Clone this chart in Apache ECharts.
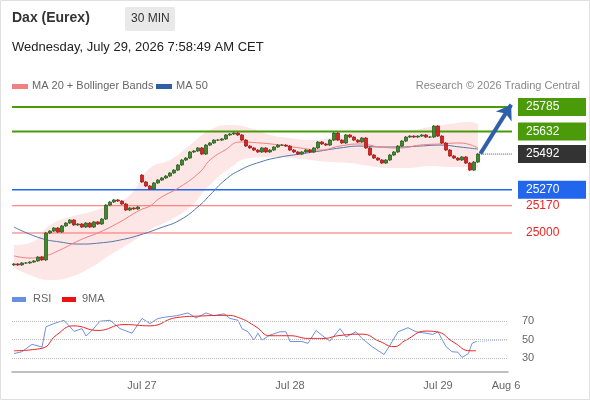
<!DOCTYPE html>
<html><head><meta charset="utf-8">
<script src="https://cdn.jsdelivr.net/npm/echarts@6/dist/echarts.min.js"></script>
<style>html,body{margin:0;padding:0;background:#fff}#c{width:590px;height:400px}</style>
</head><body><div id="c"></div>
<script>
const closes=[24807,24801,24813,24813,24819,24826,24850,24832,25000,25012,25031,25006,25044,25062,25081,25050,25056,25037,25062,25037,25069,25056,25087,25174,25193,25206,25199,25181,25143,25156,25150,25162,25318,25293,25274,25312,25330,25343,25355,25374,25392,25424,25455,25467,25505,25511,25530,25492,25548,25561,25579,25579,25586,25611,25617,25623,25611,25579,25542,25530,25517,25505,25530,25505,25517,25536,25548,25548,25542,25517,25505,25492,25505,25517,25505,25530,25567,25555,25548,25579,25623,25579,25561,25611,25598,25579,25567,25592,25530,25486,25467,25455,25436,25455,25486,25505,25542,25573,25598,25604,25598,25604,25611,25598,25598,25667,25604,25561,25517,25480,25467,25455,25474,25436,25392,25442,25492];
const openGaps={32:25361};
const ma50=[[0,25037],[6.5,24969],[11.5,24944],[16.5,24931],[21.5,24938],[26.5,24956],[31.5,24988],[36.5,25031],[41.5,25081],[46.5,25174],[49,25237],[52.75,25330],[56.5,25392],[61.5,25442],[66.5,25473],[71.5,25492],[76.5,25511],[81.5,25530],[86.5,25542],[91.5,25536],[96.5,25536],[101.5,25542],[106.5,25548],[111.5,25536],[116,25523]];
const ma20=[[0,24857],[4,24844],[7.75,24857],[11.5,24894],[16.5,24956],[21.5,25006],[26.5,25069],[31.5,25143],[34,25168],[36.5,25218],[41.5,25287],[46.5,25380],[49,25455],[52.75,25517],[56.5,25567],[61.5,25561],[66.5,25548],[71.5,25530],[76.5,25517],[81.5,25542],[86.5,25555],[91.5,25536],[96.5,25530],[101.5,25548],[106.5,25555],[111.5,25561],[116,25530]];
const bandIdx=[0,4,9,14,19,24,29,34,39,44,49,54,59,64,69,74,79,84,89,94,99,104,109,114,116];
const bandUpper=[24925,24938,25050,25100,25131,25174,25237,25405,25455,25548,25642,25673,25654,25611,25592,25579,25592,25623,25642,25642,25642,25660,25679,25692,25679];
const bandLower=[24782,24738,24707,24726,24782,24863,24938,25019,25081,25162,25299,25405,25467,25473,25467,25455,25442,25436,25417,25405,25405,25417,25411,25411,25405];
const rsi=[[0,35],[2,37],[4.5,45],[7,42],[8,64],[10,67.5],[12.5,71],[14,64],[15,59],[17,62],[18,54],[19.5,60],[21.5,70],[24,71],[26.5,62],[29.5,57],[32,73],[34,67.5],[36,73],[38,74.6],[40.7,76],[43.5,79],[45.5,73.5],[48,79],[50,76],[52.5,78],[54,73],[56,71],[57,62],[58.5,58.6],[60,49.6],[61,57],[62,49.6],[64,55],[66.5,58.6],[68,58.6],[69,48],[72,48],[73.5,46],[75.5,60],[77.5,53],[79,48.6],[81.5,62],[83,53],[85.5,58.6],[87,51.4],[89.5,42.5],[92.5,34],[94,44],[96,58.6],[98.5,63],[100.5,58.6],[103,57],[104.7,55.7],[106,58.6],[108,42.5],[109.5,37],[111,36.4],[112,30.7],[113.6,35],[114.5,46],[115.5,48]];
const rsiMa=[[0,38],[7,40.7],[10.6,55],[15,65],[21,60],[27.5,66.4],[34,65],[40.7,74],[47,75.7],[53,76.4],[56.7,73],[60.5,64],[64,54.3],[69,54.3],[73.6,51.4],[77.5,51.4],[81,54.3],[87,56],[91.5,48],[95,42.5],[98,49.6],[103,59.3],[105.6,58.6],[110,47],[114,38],[115.5,38]];
const rsiLevels=[30,50,70];
const levels=[{v:25785,bg:'#4a9a0a',line:'#4a9a0a',w:2},{v:25632,bg:'#4a9a0a',line:'#4a9a0a',w:2},{v:25270,bg:'#2266ee',line:'#2266ee',w:1.5},{v:25170,bg:null,line:'#ff6a6a',w:1},{v:25000,bg:null,line:'#ff6a6a',w:1}];
const lastPrice=25492;
const dateLabels={32:'Jul 27',69:'Jul 28',106:'Jul 29',123:'Aug 6'};

const priceCats=[];for(let i=0;i<125;i++)priceCats.push(String(i));
const rsiCats=[];for(let i=0;i<124;i++)rsiCats.push(dateLabels[i]||'');
const ohlc=closes.map((c,i)=>{const o=openGaps[i]!==undefined?openGaps[i]:(i?closes[i-1]:c-6);return [o,c,Math.min(o,c)-6,Math.max(o,c)+6];});

function levelSeries(l){return {type:'line',xAxisIndex:1,yAxisIndex:0,z:3,silent:true,symbol:'none',
 data:[[-0.5,l.v],[124.5,l.v]],color:l.line,lineStyle:{color:l.line,width:l.w,type:'solid'},
 endLabel:{show:true,distance:6,formatter:String(l.v),color:l.bg?'#fff':'#e22',fontSize:12,
  backgroundColor:l.bg||'transparent',padding:[3,14,3,8],width:46}};}

const chart=echarts.init(document.getElementById('c'));
chart.setOption({
 animation:false,
 grid:[{left:12,top:100,width:500,height:180},{left:12,top:312,width:496,height:60}],
 xAxis:[
  {type:'category',data:priceCats,gridIndex:0,show:false,boundaryGap:true},
  {type:'value',gridIndex:0,show:false,min:-0.5,max:124.5},
  {type:'category',data:rsiCats,gridIndex:1,boundaryGap:true,
   axisLine:{lineStyle:{color:'#aaa',width:1.5}},axisTick:{show:false},
   axisLabel:{interval:(i)=>!!dateLabels[i],color:'#666',fontSize:11,margin:8}},
  {type:'value',gridIndex:1,show:false,min:-0.5,max:123.5}
 ],
 yAxis:[
  {type:'value',gridIndex:0,min:24707,max:25829,show:false,splitLine:{show:false}},
  {type:'value',gridIndex:1,min:15,max:80,show:false,splitLine:{show:false}}
 ],
 series:[
  {type:'line',z:1,xAxisIndex:1,yAxisIndex:0,data:bandIdx.map((x,k)=>[x,bandUpper[k]]),symbol:'none',smooth:true,lineStyle:{opacity:0},areaStyle:{color:'#fde6e6',opacity:1,origin:'start'}},
  {type:'line',z:1,xAxisIndex:1,yAxisIndex:0,data:bandIdx.map((x,k)=>[x,bandLower[k]]),symbol:'none',smooth:true,lineStyle:{opacity:0},areaStyle:{color:'#ffffff',opacity:1,origin:'start'}},
  ...levels.map(levelSeries),
  {type:'line',z:4,xAxisIndex:1,yAxisIndex:0,data:ma50,symbol:'none',smooth:true,lineStyle:{color:'#5577aa',width:1}},
  {type:'line',z:4,xAxisIndex:1,yAxisIndex:0,data:ma20,symbol:'none',smooth:true,lineStyle:{color:'#f28080',width:1}},
  {type:'candlestick',z:6,xAxisIndex:0,yAxisIndex:0,data:ohlc,barWidth:3,large:false,
   itemStyle:{color:'#3f8a2e',color0:'#dd2222',borderColor:'#2e5e22',borderColor0:'#992222',borderWidth:0.8}},
  {type:'line',z:3,xAxisIndex:1,yAxisIndex:0,silent:true,symbol:'none',data:[[116.3,lastPrice],[124.5,lastPrice]],
   lineStyle:{color:'#555',type:'dotted',width:1},
   endLabel:{show:true,distance:6,formatter:String(lastPrice),color:'#fff',fontSize:12,backgroundColor:'#333',padding:[3,14,3,8],width:46}},
  {type:'line',z:7,xAxisIndex:1,yAxisIndex:0,data:[],silent:true,
   markLine:{symbol:['none','arrow'],symbolSize:14,silent:true,
    label:{show:false},data:[[{coord:[116.6,25495],lineStyle:{color:'#2e5fa8',type:'solid',width:4}},{coord:[124.3,25800]}]]}},
  {type:'line',xAxisIndex:3,yAxisIndex:1,data:rsi,symbol:'none',lineStyle:{color:'#7090e0',width:1},
   markLine:{symbol:'none',silent:true,
    label:{show:true,position:'end',distance:14,color:'#666',fontSize:11,formatter:p=>String(p.value)},
    data:rsiLevels.map(v=>({yAxis:v,lineStyle:{color:'#bbb',type:'dotted',width:1}}))}},
  {type:'line',xAxisIndex:3,yAxisIndex:1,silent:true,symbol:'none',data:[[115.5,48],[123.5,50]],
   lineStyle:{color:'#a0b4ee',type:'dotted',width:1}},
  {type:'line',xAxisIndex:3,yAxisIndex:1,data:rsiMa,symbol:'none',smooth:true,lineStyle:{color:'#ee2222',width:1}}
 ],
 graphic:[
  {type:'rect',shape:{x:0.5,y:0.5,width:589,height:399},style:{fill:'none',stroke:'#e0e0e0'}},
  {type:'text',left:12,top:11,style:{text:'Dax (Eurex)',font:'bold 14px Arial, Liberation Sans',fill:'#333'}},
  {type:'rect',shape:{x:125,y:7,width:50,height:24,r:2},style:{fill:'#e9e9e9'}},
  {type:'text',left:131,top:13,style:{text:'30 MIN',font:'12px Arial, Liberation Sans',fill:'#333'}},
  {type:'text',left:12,top:41,style:{text:'Wednesday, July 29, 2026 7:58:49 AM CET',font:'13px Arial, Liberation Sans',fill:'#222'}},
  {type:'rect',shape:{x:12,y:84,width:16,height:5},style:{fill:'#f28080'}},
  {type:'text',left:32,top:80,style:{text:'MA 20 + Bollinger Bands',font:'11px Arial, Liberation Sans',fill:'#666'}},
  {type:'rect',shape:{x:156,y:84,width:16,height:5},style:{fill:'#2e5fa8'}},
  {type:'text',left:176,top:80,style:{text:'MA 50',font:'11px Arial, Liberation Sans',fill:'#666'}},
  {type:'text',right:10,top:80,style:{text:'Research © 2026 Trading Central',font:'11px Arial, Liberation Sans',fill:'#888'}},
  {type:'rect',shape:{x:12,y:297,width:14,height:5},style:{fill:'#6a8ee0'}},
  {type:'text',left:33,top:293,style:{text:'RSI',font:'11px Arial, Liberation Sans',fill:'#666'}},
  {type:'rect',shape:{x:62,y:297,width:14,height:5},style:{fill:'#ee1111'}},
  {type:'text',left:82,top:293,style:{text:'9MA',font:'11px Arial, Liberation Sans',fill:'#666'}}
 ]
});
</script></body></html>
